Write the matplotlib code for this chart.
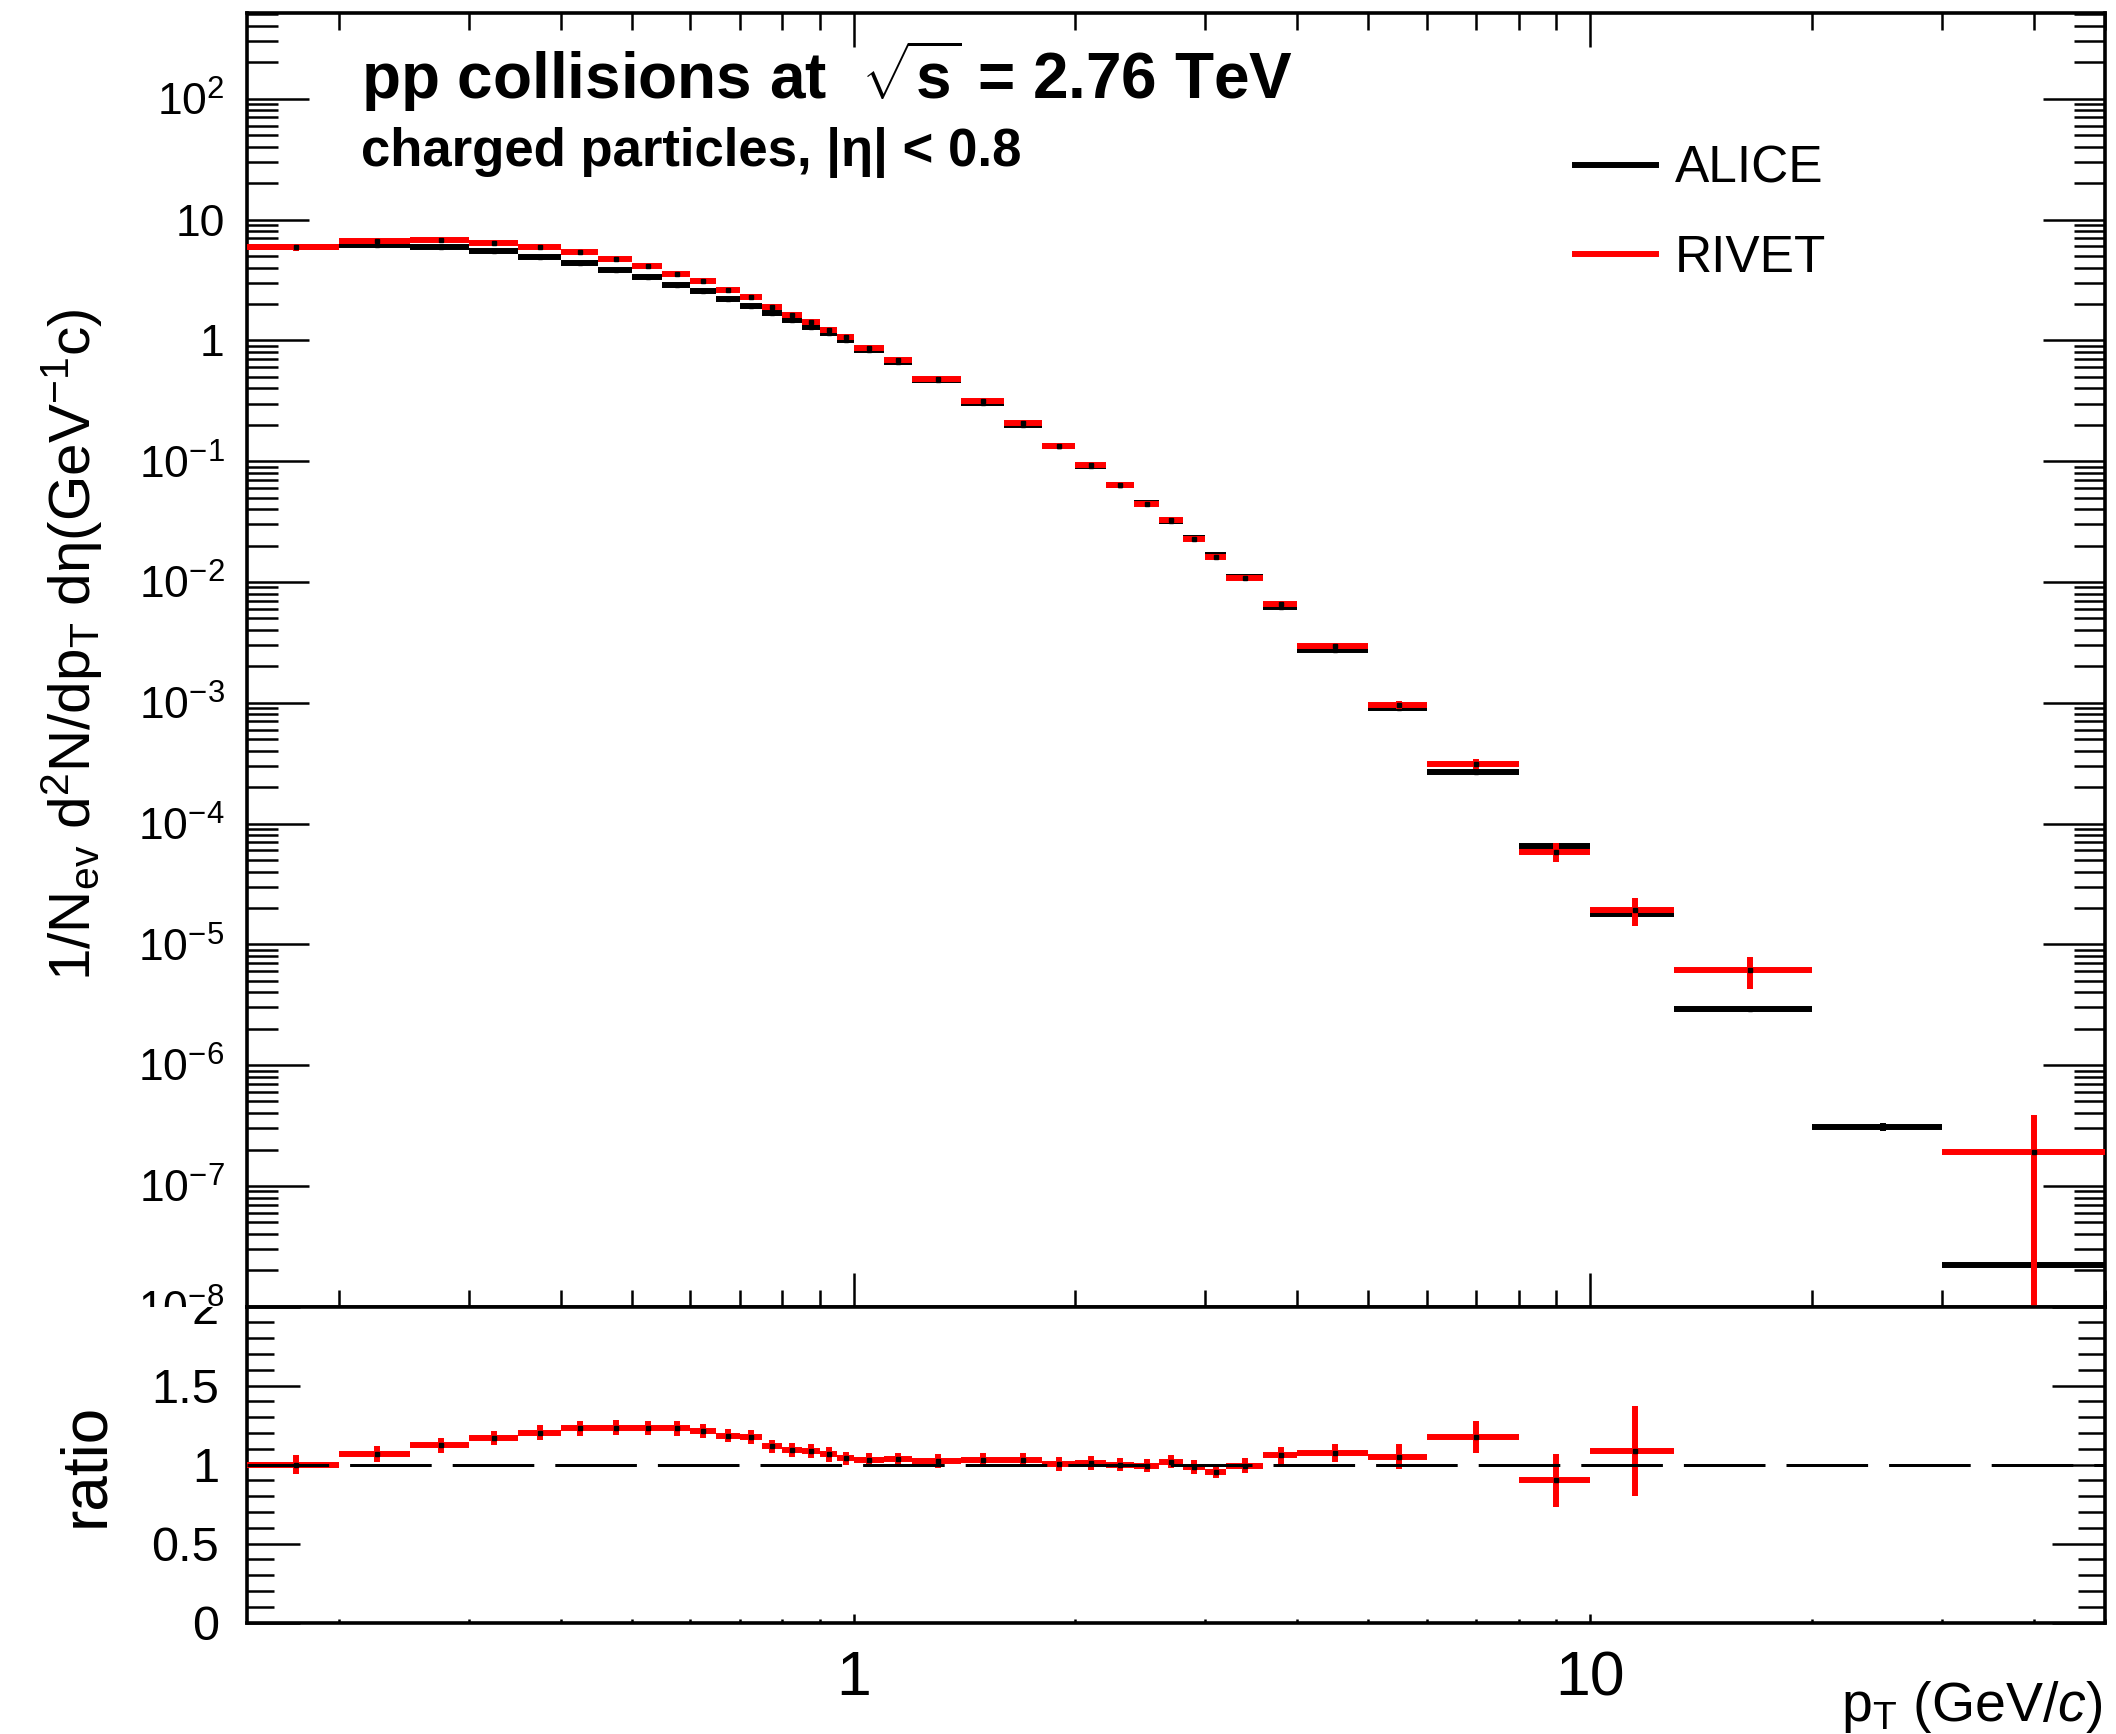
import numpy as np
import matplotlib
matplotlib.use('Agg')
import matplotlib.pyplot as plt
from matplotlib.lines import Line2D
from matplotlib.ticker import FixedLocator, FixedFormatter, NullFormatter, MultipleLocator
from matplotlib.transforms import Bbox, TransformedBbox

plt.rcParams['font.family'] = 'Liberation Sans'
plt.rcParams['mathtext.fontset'] = 'custom'
plt.rcParams['mathtext.rm'] = 'Liberation Sans'
plt.rcParams['mathtext.it'] = 'Liberation Sans:italic'
plt.rcParams['mathtext.bf'] = 'Liberation Sans:bold'

# Data
pt_edges = [0.15, 0.2, 0.25, 0.3, 0.35, 0.4, 0.45, 0.5, 0.55, 0.6, 0.65, 0.7, 0.75, 0.8,
            0.85, 0.9, 0.95, 1.0, 1.1, 1.2, 1.4, 1.6, 1.8, 2.0, 2.2, 2.4, 2.6, 2.8, 3.0,
            3.2, 3.6, 4.0, 5.0, 6.0, 8.0, 10.0, 13.0, 20.0, 30.0, 50.0]

alice = [5.88, 6.17, 5.98, 5.50, 4.92, 4.37, 3.82, 3.33, 2.89, 2.54, 2.21, 1.935, 1.685,
         1.482, 1.302, 1.144, 1.014, 0.840, 0.661, 0.472, 0.3035, 0.2004, 0.1342, 0.0913,
         0.0635, 0.0448, 0.0318, 0.0231, 0.01684, 0.01091, 0.00619, 0.002732, 0.000909,
         0.000266, 6.48e-5, 1.776e-5, 2.89e-6, 3.07e-7, 2.2e-8]
alice_err = [0.12, 0.12, 0.12, 0.11, 0.10, 0.09, 0.08, 0.07, 0.06, 0.05, 0.045, 0.04, 0.034,
             0.03, 0.026, 0.023, 0.02, 0.017, 0.013, 0.009, 0.006, 0.004, 0.0027, 0.0018,
             0.0013, 0.0009, 0.00064, 0.00046, 0.00034, 0.00022, 0.00013, 5.5e-5, 1.9e-5,
             5.6e-6, 1.4e-6, 4.0e-7, 7e-8, 2.4e-8, 3e-9]

rivet = [5.885, 6.60, 6.72, 6.43, 5.92, 5.38, 4.71, 4.09, 3.56, 3.08, 2.61, 2.27, 1.88,
         1.62, 1.415, 1.22, 1.057, 0.867, 0.685, 0.483, 0.312, 0.206, 0.1346, 0.0925,
         0.0635, 0.0445, 0.0324, 0.0227, 0.01607, 0.01084, 0.00656, 0.00294, 0.000955,
         0.000312, 5.84e-5, 1.93e-5, 6.08e-6, np.nan, 1.92e-7]
rivet_err = [0.35, 0.31, 0.275, 0.26, 0.237, 0.206, 0.179, 0.15, 0.133, 0.107, 0.091, 0.085,
             0.071, 0.062, 0.057, 0.053, 0.041, 0.034, 0.027, 0.0203, 0.0134, 0.0091, 0.0058,
             0.0041, 0.0027, 0.0019, 0.00133, 0.00102, 0.00069, 0.0005, 0.00034, 0.000156,
             7.1e-5, 2.7e-5, 1.05e-5, 5.0e-6, 1.8e-6, np.nan, 1.93e-7]

# ratio RIVET/ALICE, only the bins that show in the lower pad
ratio = [1.00, 1.070, 1.123, 1.169, 1.203, 1.230, 1.234, 1.230, 1.230, 1.213, 1.182, 1.173,
         1.116, 1.093, 1.087, 1.066, 1.042, 1.032, 1.036, 1.023, 1.028, 1.028, 1.003, 1.013,
         1.000, 0.994, 1.019, 0.983, 0.954, 0.994, 1.059, 1.076, 1.051, 1.173, 0.901, 1.087]
ratio_err = [0.059, 0.050, 0.046, 0.047, 0.048, 0.047, 0.047, 0.045, 0.046, 0.042, 0.041,
             0.044, 0.042, 0.042, 0.044, 0.046, 0.041, 0.041, 0.040, 0.043, 0.044, 0.045,
             0.043, 0.045, 0.042, 0.042, 0.042, 0.044, 0.041, 0.046, 0.055, 0.057, 0.078,
             0.102, 0.169, 0.284]

y_major = [1e-8, 1e-7, 1e-6, 1e-5, 1e-4, 1e-3, 1e-2, 1e-1, 1, 10, 100]
y_major_labels = [r'$\mathregular{10^{-8}}$', r'$\mathregular{10^{-7}}$', r'$\mathregular{10^{-6}}$',
                  r'$\mathregular{10^{-5}}$', r'$\mathregular{10^{-4}}$', r'$\mathregular{10^{-3}}$',
                  r'$\mathregular{10^{-2}}$', r'$\mathregular{10^{-1}}$', '1', '10',
                  r'$\mathregular{10^{2}}$']
x_major = [1, 10]
x_major_labels = ['1', '10']
ratio_ticks = [0, 0.5, 1, 1.5, 2]
ratio_labels = ['0', '0.5', '1', '1.5', '2']

# bin centres and half widths
edges = np.array(pt_edges)
pt_lo, pt_hi = edges[:-1], edges[1:]
pt_mid = 0.5 * (pt_lo + pt_hi)
xerr = np.vstack([pt_mid - pt_lo, pt_hi - pt_mid])
alice = np.array(alice)
rivet = np.array(rivet)
rivet_err = np.array(rivet_err)
nr = len(ratio)

x_minor = [m * 10.0**k for k in (-1, 0, 1) for m in range(2, 10)]
x_minor = [v for v in x_minor if 0.15 <= v <= 50]
y_minor = [m * 10.0**k for k in range(-8, 3) for m in range(2, 10)]

fig = plt.figure(figsize=(21.16, 17.34), dpi=100)
ax = fig.add_axes([0.11664, 0.24642, 0.87817, 0.74590])
ax2 = fig.add_axes([0.11664, 0.06419, 0.87817, 0.18224])

lw_bar = 4.3

# top pad: spectra
ax.set_xscale('log')
ax.set_yscale('log')
ax.errorbar(pt_mid, alice, xerr=xerr, yerr=alice_err, fmt='s', ms=2.6, mfc='k', mec='k',
            ecolor='k', elinewidth=lw_bar, capsize=0, zorder=3)
ok = ~np.isnan(rivet)
ax.errorbar(pt_mid[ok], rivet[ok], xerr=xerr[:, ok], yerr=rivet_err[ok], fmt='s', ms=2.6,
            mfc='k', mec='k', ecolor='red', elinewidth=lw_bar, capsize=0, zorder=4)
ax.set_xlim(0.15, 50)
ax.set_ylim(1e-8, 510)

ax.xaxis.set_major_locator(FixedLocator(x_major))
ax.xaxis.set_minor_locator(FixedLocator(x_minor))
ax.xaxis.set_major_formatter(NullFormatter())
ax.xaxis.set_minor_formatter(NullFormatter())
ax.yaxis.set_major_locator(FixedLocator(y_major))
ax.yaxis.set_major_formatter(FixedFormatter(y_major_labels))
ax.yaxis.set_minor_locator(FixedLocator(y_minor))
ax.yaxis.set_minor_formatter(NullFormatter())

ax.tick_params(which='both', direction='in', top=True, right=True, width=1.8,
               labelbottom=False)
ax.tick_params(axis='x', which='major', length=24.5)
ax.tick_params(axis='x', which='minor', length=12.2)
ax.tick_params(axis='y', which='major', length=44.6, labelsize=32, pad=16)
ax.tick_params(axis='y', which='minor', length=22.3)
for s in ax.spines.values():
    s.set_linewidth(2.6)

ax.set_ylabel(r'1/N$_{\mathregular{ev}}$ d$^{\mathregular{2}}$N/dp$_{\mathregular{T}}$ d'
              'η(GeV$^{\mathregular{-1}}$c)', fontsize=42, va='center')
ax.yaxis.set_label_coords(-0.094, 0.512)

fig.text(0.1705, 0.9429, r'pp collisions at  $\mathbf{\sqrt{s}}$ = 2.76 TeV',
         fontsize=46, fontweight='bold', ha='left', va='baseline')
fig.text(0.1705, 0.9043, 'charged particles, |η| < 0.8',
         fontsize=38, fontweight='bold', ha='left', va='baseline')

handles = [Line2D([], [], color='k', lw=lw_bar), Line2D([], [], color='red', lw=lw_bar)]
ax.legend(handles, ['ALICE', 'RIVET'], loc='upper left', bbox_to_anchor=(0.7443, 0.9165),
          bbox_transform=fig.transFigure, frameon=False, fontsize=37, handlelength=1.58,
          handletextpad=0.37, labelspacing=0.78, borderpad=0, borderaxespad=0)

# bottom pad: ratio
ax2.set_xscale('log')
ax2.errorbar(pt_mid[:nr], ratio, xerr=xerr[:, :nr], yerr=ratio_err, fmt='s', ms=2.6,
             mfc='k', mec='k', ecolor='red', elinewidth=lw_bar, capsize=0, zorder=3)
ax2.axhline(1.0, color='k', lw=2.16, linestyle=(0, (27.2, 7.0)), zorder=5)
ax2.set_xlim(0.15, 50)
ax2.set_ylim(0, 2)

ax2.xaxis.set_major_locator(FixedLocator(x_major))
ax2.xaxis.set_major_formatter(FixedFormatter(x_major_labels))
ax2.xaxis.set_minor_locator(FixedLocator(x_minor))
ax2.xaxis.set_minor_formatter(NullFormatter())
ax2.yaxis.set_major_locator(FixedLocator(ratio_ticks))
ax2.yaxis.set_major_formatter(FixedFormatter(ratio_labels))
ax2.yaxis.set_minor_locator(MultipleLocator(0.1))

ax2.tick_params(which='both', direction='in', right=True, top=False, width=1.8)
ax2.tick_params(axis='x', which='major', length=6.8, labelsize=45, pad=19)
ax2.tick_params(axis='x', which='minor', length=3.2)
ax2.tick_params(axis='y', which='major', length=38, labelsize=35, pad=20)
ax2.tick_params(axis='y', which='minor', length=19.4)
for s in ax2.spines.values():
    s.set_linewidth(2.6)

ax2.set_ylabel('ratio', fontsize=46, va='center')
ax2.yaxis.set_label_coords(-0.0865, 0.5)
ax2.text(0.999, -0.31, r'p$_{\mathregular{T}}$ (GeV/$\mathit{c}$)', fontsize=40,
         ha='right', va='baseline', transform=ax2.transAxes)

# pads clip their own labels at the boundary (like the ROOT pads)
top_box = TransformedBbox(Bbox([[0, 0.24642], [1, 1]]), fig.transFigure)
bot_box = TransformedBbox(Bbox([[0, 0], [1, 0.24642]]), fig.transFigure)
for lbl in ax.get_yticklabels():
    lbl.set_clip_box(top_box)
    lbl.set_clip_on(True)
for lbl in ax2.get_yticklabels():
    lbl.set_clip_box(bot_box)
    lbl.set_clip_on(True)

fig.savefig('out.png', dpi=100)
